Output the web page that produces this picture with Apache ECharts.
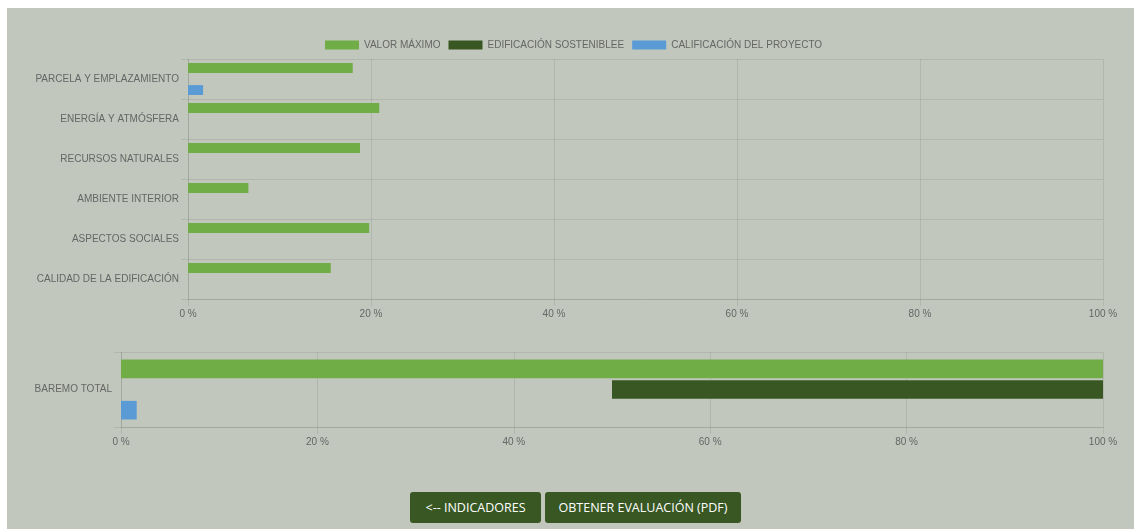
<!DOCTYPE html>
<html lang="es">
<head>
	<meta charset="UTF-8">
	<title>Baremo</title>
	<script src="https://cdn.jsdelivr.net/npm/echarts@6/dist/echarts.min.js"></script>
	<style>
		body{margin:0;background:#fff;font-family:"Liberation Sans",Arial,sans-serif;}
		#panel{position:absolute;left:7px;top:8px;width:1127px;height:521px;background:#c1c7bc;}
		#chart{position:absolute;left:0;top:0;width:1134px;height:470px;}
		.btn{position:absolute;top:492px;height:31px;line-height:31px;background:#385723;color:#fff;
			font-family:"Open Sans","Noto Sans",sans-serif;font-size:12.5px;text-align:center;border-radius:3px;}
	</style>
</head>
<body>
	<div id="panel"></div>
	<div id="chart"></div>
	<div class="btn" style="left:410px;width:131px;">&lt;-- INDICADORES</div>
	<div class="btn" style="left:545px;width:196px;">OBTENER EVALUACIÓN (PDF)</div>

	<script>
		// categorias del grafico de arriba
		var categorias = ['PARCELA Y EMPLAZAMIENTO', 'ENERGÍA Y ATMÓSFERA', 'RECURSOS NATURALES',
			'AMBIENTE INTERIOR', 'ASPECTOS SOCIALES', 'CALIDAD DE LA EDIFICACIÓN'];
		var valorMaximo = [18, 20.9, 18.8, 6.6, 19.8, 15.6];
		var edificacion = [0, 0, 0, 0, 0, 0];
		var calificacion = [1.65, 0, 0, 0, 0, 0];

		// baremo total (abajo)
		var totalCategorias = ['BAREMO TOTAL'];
		var totalMaximo = [100];
		var totalSostenibleDesde = [50];
		var totalSostenibleHasta = [100];
		var totalCalificacion = [1.6];

		var nombres = ['VALOR MÁXIMO', 'EDIFICACIÓN SOSTENIBLEE', 'CALIFICACIÓN DEL PROYECTO'];
		var colores = ['#70ad47', '#385723', '#5b9bd5'];

		var gris = 'rgba(0,0,0,0.08)';
		var textoGris = '#666';

		function ejeValor(idx){
			return {
				type: 'value', gridIndex: idx, min: 0, max: 100, interval: 20,
				axisLine: {show: true, lineStyle: {color: gris}},
				axisTick: {show: true, length: 7, lineStyle: {color: gris}},
				splitLine: {show: true, lineStyle: {color: gris}},
				axisLabel: {formatter: '{value} %', color: textoGris, fontSize: 10,
					fontFamily: 'Liberation Sans', margin: 10}
			};
		}
		function ejeCategoria(idx, data){
			return {
				type: 'category', gridIndex: idx, data: data, inverse: true,
				axisLine: {show: true, lineStyle: {color: gris}},
				axisTick: {show: true, length: 7, lineStyle: {color: gris}},
				splitLine: {show: true, lineStyle: {color: gris}},
				axisLabel: {color: textoGris, fontSize: 10, fontFamily: 'Liberation Sans', margin: 9}
			};
		}
		function barra(nombre, color, datos, idx, extra){
			var s = {
				name: nombre, type: 'bar', xAxisIndex: idx, yAxisIndex: idx, data: datos,
				barGap: '11%', barCategoryGap: '20%',
				itemStyle: {color: color}
			};
			for (var k in extra) s[k] = extra[k];
			return s;
		}

		var sostenibleResto = totalSostenibleHasta.map(function(v, i){ return v - totalSostenibleDesde[i]; });

		var chart = echarts.init(document.getElementById('chart'));
		chart.setOption({
			animation: false,
			legend: {
				data: nombres, left: 320, top: 35, itemWidth: 34, itemHeight: 9, itemGap: 8,
				textStyle: {color: textoGris, fontSize: 10, fontFamily: 'Liberation Sans'},
				icon: 'rect'
			},
			grid: [
				{left: 188, top: 59, width: 915, height: 240},
				{left: 121, top: 352, width: 982, height: 75}
			],
			xAxis: [ejeValor(0), ejeValor(1)],
			yAxis: [ejeCategoria(0, categorias), ejeCategoria(1, totalCategorias)],
			series: [
				barra(nombres[0], colores[0], valorMaximo, 0),
				barra(nombres[1], colores[1], edificacion, 0),
				barra(nombres[2], colores[2], calificacion, 0),
				barra(nombres[0], colores[0], totalMaximo, 1),
				barra('base', 'rgba(0,0,0,0)', totalSostenibleDesde, 1, {stack: 'sost', silent: true}),
				barra(nombres[1], colores[1], sostenibleResto, 1, {stack: 'sost'}),
				barra(nombres[2], colores[2], totalCalificacion, 1)
			]
		});
	</script>
</body>
</html>
